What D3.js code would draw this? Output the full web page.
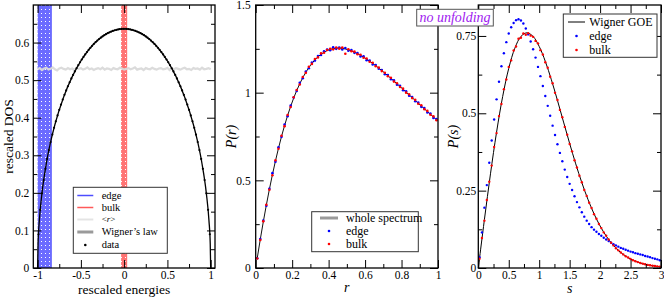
<!DOCTYPE html>
<html><head><meta charset="utf-8">
<script src="https://cdn.jsdelivr.net/npm/d3@7"></script>
<style>body{margin:0;background:#fff} svg text{font-family:"Liberation Serif","Times New Roman",serif;}</style>
</head><body>
<svg id="c" width="664" height="299" xmlns="http://www.w3.org/2000/svg"></svg>
<script>
// ---------- DATA ----------
// Panel 1: rescaled DOS
const dosData = [0.0898,0.1548,0.1988,0.2340,0.2640,0.2903,0.3139,0.3354,0.3551,0.3733,0.3903,0.4062,0.4211,0.4351,0.4483,0.4608,0.4726,0.4838,0.4944,0.5045,0.5140,0.5231,0.5317,0.5399,0.5476,0.5550,0.5619,0.5685,0.5748,0.5807,0.5862,0.5914,0.5964,0.6010,0.6053,0.6093,0.6130,0.6164,0.6196,0.6224,0.6250,0.6274,0.6294,0.6312,0.6328,0.6340,0.6351,0.6358,0.6363,0.6366,
0.6366,0.6363,0.6358,0.6351,0.6340,0.6328,0.6312,0.6294,0.6274,0.6250,0.6224,0.6196,0.6164,0.6130,0.6093,0.6053,0.6010,0.5964,0.5914,0.5862,0.5807,0.5748,0.5685,0.5619,0.5550,0.5476,0.5399,0.5317,0.5231,0.5140,0.5045,0.4944,0.4838,0.4726,0.4608,0.4483,0.4351,0.4211,0.4062,0.3903,0.3733,0.3551,0.3354,0.3139,0.2903,0.2640,0.2340,0.1988,0.1548,0.0898];
const dosBins = d3.range(dosData.length).map(i => -0.99 + 0.02 * i);
const lawE = [-1,-0.995,-0.98,-0.95,-0.9,-0.85,-0.8,-0.7,-0.6,-0.5,-0.4,-0.3,-0.2,-0.1,0,0.1,0.2,0.3,0.4,0.5,0.6,0.7,0.8,0.85,0.9,0.95,0.98,0.995,1];
const lawV = [0,0.0636,0.1267,0.1988,0.2775,0.3354,0.3820,0.4546,0.5093,0.5513,0.5835,0.6073,0.6238,0.6334,0.6366,0.6334,0.6238,0.6073,0.5835,0.5513,0.5093,0.4546,0.3820,0.3354,0.2775,0.1988,0.1267,0.0636,0];
const rMean = [0.529,0.532,0.527,0.531,0.533,0.528,0.530,0.534,0.529,0.526,0.531,0.533,0.530,0.528,0.532,0.529,0.531,0.527,0.533,0.530,0.532,0.528,0.530,0.534,0.529,0.531,0.527,0.530,0.532,0.529,0.533,0.528,0.531,0.530,0.527,0.532,0.530,0.529,0.533,0.531,0.528,0.530,0.532,0.529,0.531,0.534,0.528,0.530,0.531,0.527,0.532,0.530,0.529,0.533,0.530,0.528,0.531,0.532,0.529,0.530,0.533,0.527,0.531,0.529,0.532,0.530,0.528,0.531,0.533,0.529,0.530,0.527,0.532,0.530,0.531,0.528,0.533,0.529,0.530,0.532,0.529];
const rMeanE = d3.range(rMean.length).map(i => -1 + 2 * i / (rMean.length - 1));
const edgeWindow = [-1, -0.835];
const bulkWindow = [-0.035, 0.035];

// Panel 2: P(r)
const prBins = d3.range(60).map(i => (2 * i + 1) / 120);
const prWhole = [0.0555,0.1624,0.2634,0.3588,0.4483,0.5322,0.6104,0.6831,0.7505,0.8126,0.8697,0.9218,0.9694,1.0124,1.0510,1.0856,1.1164,1.1435,1.1670,1.1874,1.2046,1.2191,1.2308,1.2399,1.2468,1.2514,1.2541,1.2545,1.2526,1.2493,1.2444,1.2384,1.2310,1.2226,1.2131,1.2027,1.1915,1.1796,1.1670,1.1539,1.1402,1.1262,1.1117,1.0969,1.0817,1.0664,1.0510,1.0353,1.0194,1.0035,0.9875,0.9716,0.9556,0.9398,0.9238,0.9080,0.8922,0.8766,0.8610,0.8457];
const prEdge = [0.056,0.165,0.270,0.355,0.452,0.541,0.606,0.688,0.748,0.818,0.866,0.926,0.972,1.010,1.056,1.082,1.121,1.139,1.172,1.183,1.209,1.215,1.236,1.246,1.242,1.259,1.250,1.258,1.246,1.255,1.239,1.243,1.227,1.226,1.206,1.207,1.185,1.183,1.161,1.158,1.136,1.129,1.105,1.101,1.077,1.070,1.045,1.039,1.014,1.008,0.982,0.975,0.951,0.944,0.919,0.912,0.887,0.881,0.856,0.850];
const prBulk = [0.054,0.160,0.266,0.361,0.446,0.529,0.614,0.680,0.754,0.809,0.873,0.918,0.974,1.015,1.047,1.089,1.113,1.148,1.164,1.192,1.201,1.224,1.228,1.243,1.250,1.247,1.258,1.251,1.257,1.222,1.248,1.236,1.234,1.219,1.216,1.199,1.195,1.176,1.170,1.151,1.143,1.123,1.114,1.094,1.085,1.063,1.054,1.032,1.023,1.000,0.991,0.969,0.959,0.937,0.928,0.905,0.896,0.874,0.865,0.843];

// Panel 3: P(s)
const sBins = d3.range(75).map(i => 0.02 + 0.04 * i);
const psEdge = [0.035,0.115,0.195,0.268,0.340,0.412,0.480,0.545,0.602,0.652,0.694,0.730,0.758,0.778,0.792,0.801,0.804,0.800,0.790,0.774,0.755,0.732,0.707,0.680,0.650,0.620,0.588,0.556,0.524,0.492,0.460,0.430,0.400,0.372,0.345,0.318,0.294,0.272,0.252,0.232,0.213,0.196,0.180,0.166,0.153,0.142,0.132,0.124,0.117,0.110,0.104,0.098,0.092,0.087,0.082,0.077,0.073,0.069,0.065,0.062,0.059,0.056,0.053,0.051,0.048,0.046,0.044,0.042,0.039,0.037,0.035,0.032,0.030,0.028,0.025];
const psBulk = [0.030,0.097,0.153,0.220,0.279,0.331,0.391,0.436,0.491,0.530,0.578,0.609,0.650,0.671,0.703,0.716,0.741,0.744,0.758,0.754,0.759,0.751,0.747,0.734,0.726,0.704,0.690,0.665,0.647,0.618,0.597,0.566,0.543,0.511,0.487,0.456,0.431,0.401,0.377,0.348,0.325,0.298,0.277,0.252,0.233,0.211,0.194,0.174,0.159,0.142,0.129,0.115,0.104,0.092,0.082,0.073,0.064,0.057,0.050,0.044,0.038,0.034,0.029,0.025,0.022,0.019,0.016,0.014,0.012,0.010,0.0088,0.0074,0.0063,0.0053,0.0045];
const goeS = [0,0.1,0.2,0.3,0.4,0.5,0.6,0.7,0.8,0.9,1.0,1.1,1.2,1.3,1.4,1.5,1.6,1.7,1.8,1.9,2.0,2.1,2.2,2.3,2.4,2.5,2.6,2.7,2.8,2.9,3.0];
const goeP = [0,0.1558,0.3044,0.4391,0.5541,0.6454,0.7104,0.7483,0.7601,0.7483,0.7161,0.6680,0.6083,0.5415,0.4717,0.4025,0.3365,0.2759,0.2220,0.1752,0.1358,0.1033,0.0772,0.0567,0.0409,0.0290,0.0202,0.0138,0.0093,0.0062,0.0040];

// tick values
const p1XMajor = [-1,-0.5,0,0.5,1], p1XMinor = [-0.75,-0.25,0.25,0.75];
const p1YMajor = [0,0.1,0.2,0.3,0.4,0.5,0.6], p1YMinor = [0.05,0.15,0.25,0.35,0.45,0.55,0.65];
const p2XMajor = [0,0.2,0.4,0.6,0.8,1], p2XMinor = [0.1,0.3,0.5,0.7,0.9];
const p2YMajor = [0,0.5,1,1.5], p2YMinor = [0.25,0.75,1.25];
const p3XMajor = [0,0.5,1,1.5,2,2.5,3], p3XMinor = [0.25,0.75,1.25,1.75,2.25,2.75];
const p3YMajor = [0,0.25,0.5,0.75], p3YMinor = [0.125,0.375,0.625];

// ---------- DRAW ----------
const svg = d3.select('#c');
const FONT = '"Liberation Serif","Times New Roman",serif';
const TICKFS = 11.5;
const defs = svg.append('defs');
function pat(id, col) {
  const p = defs.append('pattern').attr('id', id).attr('width', 4).attr('height', 4).attr('patternUnits', 'userSpaceOnUse');
  p.append('rect').attr('width', 4).attr('height', 4).attr('fill', col);
  p.append('rect').attr('x', 1).attr('y', 1).attr('width', 1).attr('height', 1).attr('fill', '#fff');
}
pat('pBlue', '#6b6bff');
pat('pRed', '#ff7474');

function axes(g, x, y, o) {
  const [xa, xb] = x.range(), [ya, yb] = y.range();
  const fmt = d => String(d);
  const style = sel => {
    sel.select('.domain').remove();
    sel.selectAll('.tick line').attr('stroke', '#000').attr('stroke-width', 1);
    sel.attr('font-family', FONT).attr('font-size', TICKFS);
    sel.selectAll('.tick text').attr('fill', '#000');
  };
  g.append('g').attr('transform', `translate(0,${ya})`).call(d3.axisBottom(x).tickValues(o.xMajor).tickSize(-8).tickPadding(3.3).tickFormat(fmt)).call(style);
  g.append('g').attr('transform', `translate(0,${ya})`).call(d3.axisBottom(x).tickValues(o.xMinor).tickSize(-4).tickFormat('')).call(style);
  g.append('g').attr('transform', `translate(0,${yb})`).call(d3.axisTop(x).tickValues(o.xMajor).tickSize(-8).tickFormat('')).call(style);
  g.append('g').attr('transform', `translate(0,${yb})`).call(d3.axisTop(x).tickValues(o.xMinor).tickSize(-4).tickFormat('')).call(style);
  g.append('g').attr('transform', `translate(${xa},0)`).call(d3.axisLeft(y).tickValues(o.yMajor).tickSize(-8).tickPadding(o.yPad).tickFormat(fmt)).call(style);
  g.append('g').attr('transform', `translate(${xa},0)`).call(d3.axisLeft(y).tickValues(o.yMinor).tickSize(-4).tickFormat('')).call(style);
  g.append('g').attr('transform', `translate(${xb},0)`).call(d3.axisRight(y).tickValues(o.yMajor).tickSize(-8).tickFormat('')).call(style);
  g.append('g').attr('transform', `translate(${xb},0)`).call(d3.axisRight(y).tickValues(o.yMinor).tickSize(-4).tickFormat('')).call(style);
  g.append('rect').attr('x', xa).attr('y', yb).attr('width', xb - xa).attr('height', ya - yb)
    .attr('fill', 'none').attr('stroke', '#000').attr('stroke-width', 1.3);
}

function legend(g, box, items, fs) {
  g.append('rect').attr('x', box[0]).attr('y', box[1]).attr('width', box[2]).attr('height', box[3])
    .attr('fill', '#fff').attr('stroke', '#333').attr('stroke-width', 1);
  items.forEach(it => {
    if (it.type === 'line') {
      g.append('line').attr('x1', it.x0).attr('x2', it.x1).attr('y1', it.y).attr('y2', it.y)
        .attr('stroke', it.color).attr('stroke-width', it.w);
    } else {
      g.append('circle').attr('cx', (it.x0 + it.x1) / 2).attr('cy', it.y).attr('r', 1.3).attr('fill', it.color);
    }
    const t = g.append('text').attr('x', it.tx).attr('y', it.y).attr('dy', '0.33em')
      .attr('font-size', it.fs || fs).attr('fill', '#000');
    if (it.html) it.html(t); else t.text(it.label);
  });
}

// ===== Panel 1 =====
const x1 = d3.scaleLinear().domain([-1.05, 1.05]).range([33.3, 215]);
const y1 = d3.scaleLinear().domain([0, 0.7]).range([268, 5]);
const g1 = svg.append('g');
g1.append('rect').attr('x', x1(edgeWindow[0])).attr('width', x1(edgeWindow[1]) - x1(edgeWindow[0]))
  .attr('y', y1(0.7)).attr('height', y1(0) - y1(0.7)).attr('fill', 'url(#pBlue)');
g1.append('rect').attr('x', x1(bulkWindow[0])).attr('width', x1(bulkWindow[1]) - x1(bulkWindow[0]))
  .attr('y', y1(0.7)).attr('height', y1(0) - y1(0.7)).attr('fill', 'url(#pRed)');
g1.append('path').datum(rMean.map((v, i) => [rMeanE[i], v]))
  .attr('d', d3.line().x(d => x1(d[0])).y(d => y1(d[1])))
  .attr('fill', 'none').attr('stroke', '#d9d9d9').attr('stroke-width', 2.2).attr('opacity', 0.95);
g1.append('path').datum(lawV.map((v, i) => [lawE[i], v]))
  .attr('d', d3.line().x(d => x1(d[0])).y(d => y1(d[1])).curve(d3.curveMonotoneX))
  .attr('fill', 'none').attr('stroke', '#000').attr('stroke-width', 1.3);
g1.selectAll('circle.dos').data(dosData).join('circle').attr('class', 'dos')
  .attr('cx', (d, i) => x1(dosBins[i])).attr('cy', d => y1(d)).attr('r', 1.1).attr('fill', '#000');
axes(g1, x1, y1, {xMajor: p1XMajor, xMinor: p1XMinor, yMajor: p1YMajor, yMinor: p1YMinor, yPad: 4});
g1.append('text').attr('x', x1(0)).attr('y', 294).attr('text-anchor', 'middle').attr('font-size', 13.5).text('rescaled energies');
g1.append('text').attr('transform', 'translate(13,136.5) rotate(-90)').attr('text-anchor', 'middle').attr('font-size', 13.5).text('rescaled DOS');
legend(g1, [73.3, 187.3, 94, 66], [
  {type: 'line', x0: 77.3, x1: 93.3, y: 195.5, color: '#4d4dff', w: 1.5, tx: 101.7, label: 'edge'},
  {type: 'line', x0: 77.3, x1: 93.3, y: 207.5, color: '#ff5959', w: 1.5, tx: 101.7, label: 'bulk'},
  {type: 'line', x0: 77.3, x1: 93.3, y: 219.5, color: '#e4e4e4', w: 2, tx: 101.7, fs: 9, html: t => {
    t.text('<'); t.append('tspan').attr('font-style', 'italic').text('r'); t.append('tspan').text('>'); }},
  {type: 'line', x0: 77.3, x1: 93.3, y: 232, color: '#9a9a9a', w: 3, tx: 101.7, label: 'Wigner\u2019s law'},
  {type: 'dot', x0: 77.3, x1: 93.3, y: 245, color: '#000', tx: 101.7, label: 'data'}
], 10.5);

// ===== Panel 2 =====
const x2 = d3.scaleLinear().domain([0, 1]).range([255.7, 438]);
const y2 = d3.scaleLinear().domain([0, 1.5]).range([268, 5]);
const g2 = svg.append('g');
g2.append('path').datum(prWhole.map((v, i) => [prBins[i], v]))
  .attr('d', d3.line().x(d => x2(d[0])).y(d => y2(d[1])))
  .attr('fill', 'none').attr('stroke', '#111').attr('stroke-width', 1);
g2.selectAll('circle.pe').data(prEdge).join('circle').attr('class', 'pe')
  .attr('cx', (d, i) => x2(prBins[i])).attr('cy', d => y2(d)).attr('r', 1.3).attr('fill', '#0000ff');
g2.selectAll('circle.pb').data(prBulk).join('circle').attr('class', 'pb')
  .attr('cx', (d, i) => x2(prBins[i])).attr('cy', d => y2(d)).attr('r', 1.3).attr('fill', '#ff0000');
axes(g2, x2, y2, {xMajor: p2XMajor, xMinor: p2XMinor, yMajor: p2YMajor, yMinor: p2YMinor, yPad: 5});
g2.append('text').attr('x', x2(0.5)).attr('y', 292).attr('text-anchor', 'middle').attr('font-size', 14).attr('font-style', 'italic').text('r');
g2.append('text').attr('transform', 'translate(236,136.5) rotate(-90)').attr('text-anchor', 'middle').attr('font-size', 14).attr('font-style', 'italic').text('P(r)');
legend(g2, [311.7, 211.7, 106.6, 40], [
  {type: 'line', x0: 320, x1: 338, y: 218, color: '#9a9a9a', w: 3, tx: 346, label: 'whole spectrum'},
  {type: 'dot', x0: 320, x1: 338, y: 231, color: '#0000ff', tx: 346, label: 'edge'},
  {type: 'dot', x0: 320, x1: 338, y: 244, color: '#ff0000', tx: 346, label: 'bulk'}
], 12);

// ===== Panel 3 =====
const x3 = d3.scaleLinear().domain([0, 3]).range([478.3, 661]);
const y3 = d3.scaleLinear().domain([0, 0.85]).range([268, 5]);
const g3 = svg.append('g');
g3.append('path').datum(goeP.map((v, i) => [goeS[i], v]))
  .attr('d', d3.line().x(d => x3(d[0])).y(d => y3(d[1])).curve(d3.curveCatmullRom))
  .attr('fill', 'none').attr('stroke', '#000').attr('stroke-width', 1);
g3.selectAll('circle.se').data(psEdge).join('circle').attr('class', 'se')
  .attr('cx', (d, i) => x3(sBins[i])).attr('cy', d => y3(d)).attr('r', 1.2).attr('fill', '#0000ff');
g3.selectAll('circle.sb').data(psBulk).join('circle').attr('class', 'sb')
  .attr('cx', (d, i) => x3(sBins[i])).attr('cy', d => y3(d)).attr('r', 1.2).attr('fill', '#ff0000');
axes(g3, x3, y3, {xMajor: p3XMajor, xMinor: p3XMinor, yMajor: p3YMajor, yMinor: p3YMinor, yPad: 2});
g3.append('text').attr('x', x3(1.5)).attr('y', 293).attr('text-anchor', 'middle').attr('font-size', 14).attr('font-style', 'italic').text('s');
g3.append('text').attr('transform', 'translate(458,136.5) rotate(-90)').attr('text-anchor', 'middle').attr('font-size', 14).attr('font-style', 'italic').text('P(s)');
legend(g3, [563.3, 14, 93.7, 43.3], [
  {type: 'line', x0: 568, x1: 585, y: 22, color: '#000', w: 1, tx: 589.3, label: 'Wigner GOE'},
  {type: 'dot', x0: 568, x1: 585, y: 36, color: '#0000ff', tx: 589.3, label: 'edge'},
  {type: 'dot', x0: 568, x1: 585, y: 50, color: '#ff0000', tx: 589.3, label: 'bulk'}
], 12);

// "no unfolding" label
const nu = svg.append('g');
nu.append('rect').attr('x', 416.7).attr('y', 9.3).attr('width', 76.6).attr('height', 16.7)
  .attr('fill', '#fff').attr('stroke', '#555').attr('stroke-width', 1);
nu.append('text').attr('x', 455).attr('y', 22).attr('text-anchor', 'middle').attr('font-size', 14)
  .attr('font-style', 'italic').attr('fill', '#a020f0').text('no unfolding');
</script>
</body></html>
